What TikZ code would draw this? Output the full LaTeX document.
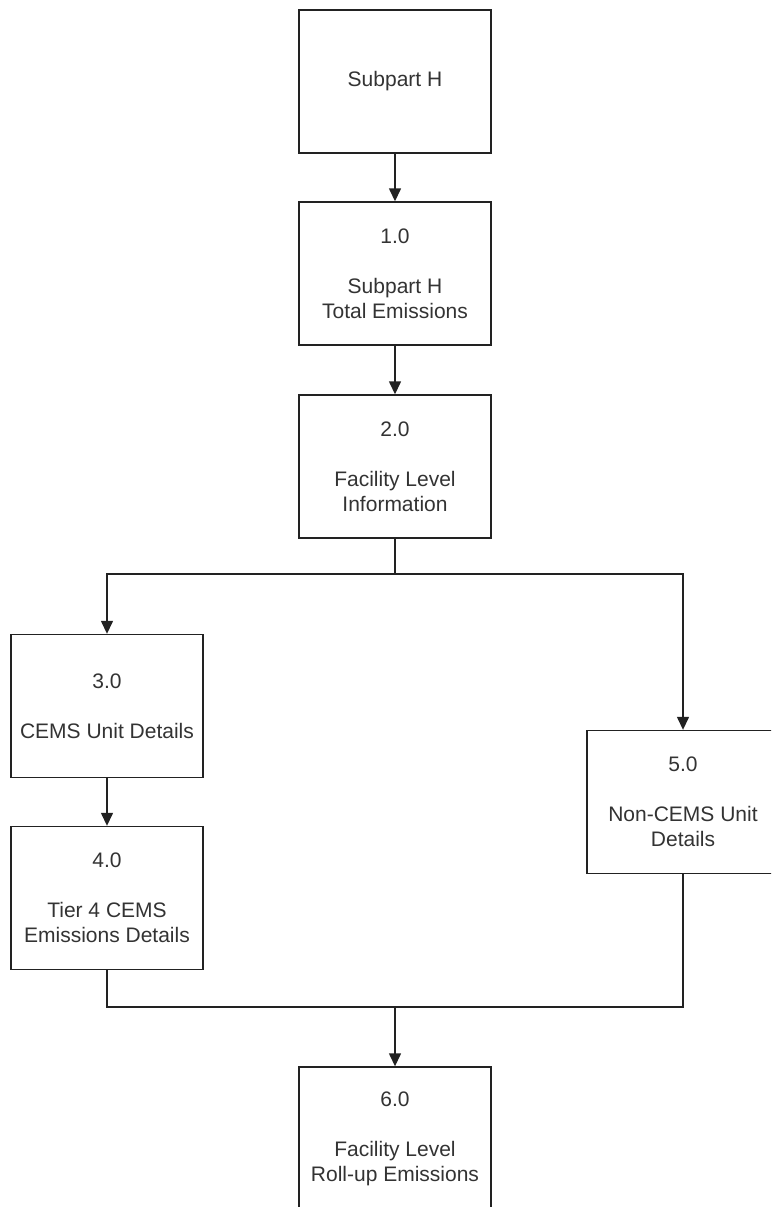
\documentclass[tikz,border=0pt]{standalone}
\usepackage{fontspec}
\setmainfont{Liberation Sans}
\usetikzlibrary{arrows.meta}
\definecolor{inkline}{HTML}{222222}
\definecolor{inktext}{HTML}{333333}
\begin{document}
\begin{tikzpicture}[x=1pt,y=-1pt,
  procbox/.style={draw=inkline, line width=1.4pt, fill=white,
    minimum width=192pt, minimum height=143pt, inner sep=0pt,
    align=center, text=inktext,
    font=\fontsize{21}{25}\selectfont},
  flow/.style={draw=inkline, line width=1.4pt},
  flowarrow/.style={flow, -{Triangle[length=13pt,width=12pt]}}]
  \clip (0,0) rectangle (771,1207);
  \fill[white] (0,0) rectangle (771,1207);

  % process boxes
  \node[procbox] (top) at (395,81.5) {Subpart H};
  \node[procbox] (p1) at (395,273.5) {1.0\\[25pt]Subpart H\\Total Emissions};
  \node[procbox] (p2) at (395,466.5) {2.0\\[25pt]Facility Level\\Information};
  \node[procbox] (p3) at (107,706) {3.0\\[25pt]CEMS Unit Details};
  \node[procbox] (p4) at (107,898) {4.0\\[25pt]Tier 4 CEMS\\Emissions Details};
  \node[procbox] (p5) at (683,802) {5.0\\[25pt]Non-CEMS Unit\\Details};
  \node[procbox] (p6) at (395,1138.5) {6.0\\[25pt]Facility Level\\Roll-up Emissions};

  % branch and merge points
  \coordinate (split) at (395,574);
  \coordinate (merge) at (395,1007);

  % connectors
  \draw[flowarrow] (top) -- (p1);
  \draw[flowarrow] (p1) -- (p2);
  \draw[flow] (p2) -- (split);
  \draw[flowarrow] (split) -| (p3);
  \draw[flowarrow] (split) -| (p5);
  \draw[flowarrow] (p3) -- (p4);
  \draw[flow] (p4.south) |- (merge) -| (p5.south);
  \draw[flowarrow] (merge) -- (p6);
\end{tikzpicture}
\end{document}
